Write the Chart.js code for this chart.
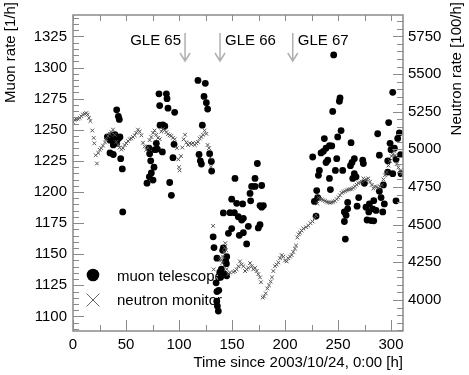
<!DOCTYPE html>
<html lang="en">
<head>
<meta charset="UTF-8">
<title>Muon and neutron rates - Oct/Nov 2003</title>
<script src="https://cdn.jsdelivr.net/npm/chart.js"></script>
<style>
  html, body { margin: 0; padding: 0; background: #fff; }
  #wrap { width: 469px; height: 375px; }
</style>
</head>
<body>
<div id="wrap"><canvas id="rates" width="469" height="375"></canvas></div>
<script>
// muon telescope, hours since 2003/10/24 0:00 and rate [1/h]
const muonHours = [
  32.4, 34.9, 34.9, 36.5, 37.2, 38.0, 38.0, 38.0, 39.6, 40.3, 41.2, 41.2, 42.8, 42.8, 43.7, 44.3, 45.0, 46.5, 46.9,
  69.8, 71.7, 72.0, 72.3, 73.3, 73.9, 75.5, 76.4, 77.4, 78.6, 79.6, 81.1, 81.8, 82.1, 84.3, 84.8, 86.6, 88.1, 88.7,
  89.6, 91.2, 92.8, 94.3, 95.3, 95.9,
  117.9, 118.9, 120.1, 121.1, 122.0, 123.6, 124.8, 125.8, 127.0, 128.9, 130.5, 130.8,
  132.2, 133.0, 135.0, 135.6, 135.8, 135.8, 136.2, 137.1, 137.5, 138.5, 139.3, 140.0, 141.2, 141.8, 141.8, 143.0,
  144.0, 144.7, 145.0, 145.0, 146.6, 148.1, 149.7, 149.7, 152.2, 152.8, 154.4, 155.9, 156.9, 159.1, 160.0, 160.7,
  160.7, 163.8, 165.4, 167.0, 167.6, 168.5, 171.7, 171.7, 173.9, 174.8, 176.4, 176.4, 178.0, 178.0, 179.6,
  226.1, 227.7, 229.3, 229.9, 230.8, 231.5, 232.4, 234.0, 236.2, 237.1, 238.7, 238.7, 240.3, 241.9, 241.9, 242.8,
  244.1, 245.0, 245.9, 247.5, 248.8, 249.7, 251.3, 251.9, 252.9, 254.4, 256.0, 256.0, 256.9, 257.6, 259.1, 259.1,
  261.7, 262.3, 263.2, 263.9, 265.4, 265.4, 267.0, 268.0, 269.5, 273.3, 273.9, 274.9, 276.4, 277.4, 279.0, 279.6,
  281.2, 282.7, 283.7, 283.7, 285.9, 287.4, 289.0, 289.0, 290.6, 292.2, 292.8, 293.7, 296.9, 296.9, 297.8, 299.1,
  300.0, 301.6, 301.6, 303.2, 304.7, 304.7, 306.3, 307.9, 309.0, 309.5
];
const muonRate = [
  1244.2, 1241.6, 1231.4, 1245.5, 1242.8, 1241.6, 1237.8, 1230.1, 1246.0, 1243.5, 1239.1, 1266.0, 1260.8, 1242.9, 1258.3, 1244.2, 1226.8, 1218.5, 1184.0,
  1207.1, 1235.3, 1212.2, 1230.7, 1225.0, 1215.3, 1209.6, 1219.9, 1234.0, 1239.1, 1234.5, 1278.9, 1269.4, 1253.7, 1232.2, 1253.9, 1252.8, 1278.9, 1275.0,
  1267.3, 1207.6, 1197.3, 1227.6, 1238.3, 1264.0,
  1289.6, 1230.1, 1225.0, 1222.5, 1253.7, 1276.8, 1287.3, 1271.7, 1266.6, 1230.7, 1224.5, 1216.8,
  1164.0, 1155.3, 1127.0, 1112.2, 1146.8, 1120.0, 1108.3, 1104.3, 1121.0, 1135.5, 1131.4, 1138.0, 1153.1, 1155.0, 1183.2, 1134.0,
  1144.2, 1142.4, 1148.0, 1132.6, 1166.8, 1183.4, 1194.2, 1170.6, 1183.4, 1210.9, 1190.9, 1180.1, 1165.2, 1177.5, 1190.4, 1178.8,
  1167.3, 1158.3, 1172.4, 1198.8, 1192.9, 1204.5, 1210.9, 1204.5, 1222.9, 1171.1, 1173.7, 1189.1, 1187.8, 1205.2, 1189.1,
  1228.1, 1192.4, 1180.6, 1201.1, 1195.5, 1213.4, 1217.3, 1231.4, 1232.7, 1242.9, 1235.2, 1223.7, 1225.5, 1237.3, 1210.9, 1201.9,
  1237.0, 1264.7, 1310.1, 1217.3, 1226.8, 1244.2, 1272.9, 1275.5, 1249.3, 1217.3, 1184.0, 1176.3, 1162.2, 1181.4, 1186.5, 1191.6,
  1221.1, 1239.6, 1223.7, 1210.9, 1226.8, 1214.7, 1212.2, 1188.6, 1195.5, 1225.5, 1222.9, 1207.0, 1187.8, 1177.5, 1184.0, 1190.4,
  1177.0, 1186.5, 1193.0, 1176.8, 1185.2, 1246.8, 1229.6, 1200.6, 1195.5, 1184.0, 1205.7, 1190.4, 1225.0, 1216.0, 1255.8, 1239.1,
  1234.0, 1280.1, 1214.7, 1235.2, 1226.3, 1192.9, 1243.0, 1247.5, 1230.0, 1214.7
];

// neutron monitor, hours and rate [100/h]
const neutronHours = [
  0, 1.6, 3.1, 4.7, 6.3, 7.9, 9.4, 11.0, 12.6, 13.8, 15.1, 16.4, 18.2, 19.5, 20.1, 21.4, 22.6, 23.9, 25.2, 26.7,
  28.3, 30.2, 31.4, 33.0, 34.6, 36.2, 37.7, 39.3, 40.9, 42.5, 44.0, 45.6, 47.2, 48.7, 50.3, 51.9, 53.5, 55.0, 56.6, 58.2,
  59.7, 61.3, 62.9, 64.5, 66.0, 67.6, 69.2, 70.8, 72.3, 73.9, 75.5, 77.0, 78.6, 80.2, 81.8, 83.3, 84.9, 86.5, 88.1, 89.6,
  91.2, 92.8, 94.3, 95.9, 98.1, 99.4, 100.0, 100.6, 101.9, 103.1, 104.4, 105.7, 106.9, 108.5, 110.1, 111.6, 113.2, 114.8, 116.4, 117.9,
  119.5, 121.1, 122.6, 124.2, 125.8, 127.0, 128.3, 129.6, 130.2,
  132.2, 132.7, 138.7, 140.0, 140.9, 141.5, 142.5, 143.1, 143.7, 144.5, 145.0, 146.5, 148.1, 151.3, 152.8, 154.4, 156.0, 157.5, 159.1, 160.7,
  162.3, 163.8, 165.4, 167.0, 168.5, 170.1, 171.7, 173.3, 174.8, 176.4, 177.3, 178.9, 180.2, 181.8, 183.3, 184.9, 186.5, 187.7, 189.0, 190.6,
  192.1, 193.7, 195.3, 196.8, 198.4, 200.0, 201.6, 203.1, 204.7, 206.3, 207.8, 209.4, 210.4, 211.6, 212.9, 214.1, 215.7, 217.3, 219.8, 222.0,
  224.0, 226.0, 228.0, 229.3, 230.5, 231.4, 233.0, 234.6, 236.0, 237.7, 239.3, 240.9, 242.5, 244.0, 245.6, 247.2, 248.8, 250.3, 251.9, 253.4,
  255.0, 256.6, 258.2, 259.7, 261.3, 262.9, 264.5, 266.0, 267.6, 269.2, 270.8, 272.3, 273.9, 275.5, 277.0, 278.6, 280.2, 281.8, 283.3, 284.9,
  286.5, 288.1, 289.6, 291.2, 292.8, 294.3, 295.9, 297.5, 299.1, 300.6, 301.6, 302.8, 303.8, 305.3, 306.9, 308.5, 310.0, 311.0
];
const neutronRate = [
  5182, 5195, 5199, 5203, 5209, 5220, 5231, 5237, 5241, 5231, 5209, 5188, 5125, 5076, 5040, 4961, 4906, 4976, 4997, 5008,
  5025, 5046, 5067, 5089, 5103, 5114, 5131, 5097, 5050, 5029, 5012, 4999, 5008, 5029, 5040, 5055, 5067, 5072, 5082, 5093,
  5110, 5131, 5118, 5093, 5044, 5019, 4997, 5012, 5061, 5082, 5110, 5125, 5097, 5076, 5067, 5118, 5135, 5127, 5114, 5101,
  5093, 5089, 5076, 5067, 5008, 4934, 4881, 4860, 4955, 5012, 5067, 5097, 5046, 5029, 5040, 5034, 5042, 5029, 5040, 5050,
  5072, 5082, 5097, 5125, 5103, 5029, 5008, 4944, 4885,
  4492, 4203, 4277, 4266, 4245, 4288, 4319, 4347, 4377, 4330, 4205, 4171, 4182, 4186, 4192, 4203, 4224, 4256, 4235, 4224,
  4192, 4203, 4213, 4245, 4224, 4203, 4213, 4192, 4171, 4150, 4118, 4016, 4023, 4044, 4076, 4097, 4122, 4150, 4192, 4224,
  4235, 4249, 4277, 4298, 4288, 4262, 4256, 4277, 4288, 4298, 4319, 4341, 4362, 4415, 4436, 4447, 4461, 4474, 4483, 4493,
  4510, 4521, 4542, 4563, 4640, 4680, 4672, 4669, 4662, 4658, 4652, 4648, 4645, 4648, 4652, 4658, 4669, 4680, 4695, 4711,
  4718, 4722, 4728, 4733, 4735, 4737, 4745, 4754, 4765, 4775, 4780, 4786, 4807, 4796, 4800, 4807, 4785, 4764, 4740, 4754,
  4750, 4743, 4755, 4764, 4800, 4828, 4849, 4892, 4923, 4955, 4966, 4990, 4960, 4902, 4880, 4860, 4840, 4828
];

const hourTicks = [0, 50, 100, 150, 200, 250, 300];
const muonTicks = [1100, 1125, 1150, 1175, 1200, 1225, 1250, 1275, 1300, 1325];
const neutronTicks = [4000, 4250, 4500, 4750, 5000, 5250, 5500, 5750];

const gleNames = ['GLE 65', 'GLE 66', 'GLE 67'];
const gleHours = [105.7, 138.7, 207.3];

const FONT = '"Liberation Sans", Arial, sans-serif';
const AXIS_GREY = '#8a8a8a';

// ROOT-like frame: inward ticks, titles at the axis ends, GLE arrows, legend
const framePlugin = {
  id: 'frame',
  afterDraw(chart) {
    const ctx = chart.ctx;
    const a = chart.chartArea;
    const xs = chart.scales.x, ys = chart.scales.y, y2 = chart.scales.y2;
    ctx.save();

    ctx.strokeStyle = AXIS_GREY;
    ctx.lineWidth = 1.5;
    ctx.strokeRect(a.left, a.top, a.right - a.left, a.bottom - a.top);

    ctx.lineWidth = 1;
    ctx.beginPath();
    for (let v = 0; v <= xs.max; v += 25) {
      const px = Math.round(xs.getPixelForValue(v)) + 0.5;
      const big = v % 50 === 0;
      ctx.moveTo(px, a.bottom); ctx.lineTo(px, a.bottom - (big ? 11 : 6));
      ctx.moveTo(px, a.top); ctx.lineTo(px, a.top + 6);
    }
    for (let v = Math.ceil(ys.min / 5) * 5; v <= ys.max; v += 5) {
      const py = Math.round(ys.getPixelForValue(v)) + 0.5;
      ctx.moveTo(a.left, py); ctx.lineTo(a.left + (v % 25 === 0 ? 11 : 6), py);
    }
    for (let v = Math.ceil(y2.min / 50) * 50; v <= y2.max; v += 50) {
      const py = Math.round(y2.getPixelForValue(v)) + 0.5;
      ctx.moveTo(a.right, py); ctx.lineTo(a.right - (v % 250 === 0 ? 10 : 6), py);
    }
    ctx.stroke();

    // GLE markers
    ctx.strokeStyle = '#b0b0b0';
    ctx.lineWidth = 1.5;
    ctx.fillStyle = '#000';
    ctx.font = '15px ' + FONT;
    ctx.textBaseline = 'middle';
    gleHours.forEach((h, i) => {
      const px = xs.getPixelForValue(h);
      const top = a.top + 18, tip = a.top + 46;
      ctx.beginPath();
      ctx.moveTo(px, top); ctx.lineTo(px, tip);
      ctx.moveTo(px - 5, tip - 8); ctx.lineTo(px, tip); ctx.lineTo(px + 5, tip - 8);
      ctx.stroke();
      if (i === 0) { ctx.textAlign = 'right'; ctx.fillText(gleNames[i], px - 4, a.top + 26); }
      else { ctx.textAlign = 'left'; ctx.fillText(gleNames[i], px + 5, a.top + 26); }
    });

    // legend
    const lx = a.left + 20;
    ctx.beginPath();
    ctx.arc(lx, 275, 6.3, 0, Math.PI * 2);
    ctx.fill();
    ctx.strokeStyle = '#666';
    ctx.lineWidth = 1;
    ctx.beginPath();
    ctx.moveTo(lx - 6.5, 293.5); ctx.lineTo(lx + 6.5, 306.5);
    ctx.moveTo(lx + 6.5, 293.5); ctx.lineTo(lx - 6.5, 306.5);
    ctx.stroke();
    ctx.textAlign = 'left';
    ctx.fillText(chart.data.datasets[0].label, lx + 24, 277);
    ctx.fillText(chart.data.datasets[1].label, lx + 24, 301);

    // axis titles
    ctx.textAlign = 'right';
    ctx.fillText('Time since 2003/10/24, 0:00 [h]', a.right, 363);
    ctx.save();
    ctx.translate(11, 2);
    ctx.rotate(-Math.PI / 2);
    ctx.fillText('Muon rate [1/h]', 0, 0);
    ctx.restore();
    ctx.save();
    ctx.translate(457, 2);
    ctx.rotate(-Math.PI / 2);
    ctx.fillText('Neutron rate [100/h]', 0, 0);
    ctx.restore();

    ctx.restore();
  }
};

function fixedTicks(values) {
  return scale => { scale.ticks = values.map(v => ({ value: v })); };
}

const tickFont = { family: FONT, size: 15 };

new Chart(document.getElementById('rates'), {
  type: 'scatter',
  data: {
    datasets: [
      {
        label: 'muon telescope',
        data: muonHours.map((h, i) => ({ x: h, y: muonRate[i] })),
        yAxisID: 'y',
        pointStyle: 'circle',
        pointRadius: 3.4,
        pointBorderWidth: 0,
        backgroundColor: '#000',
        borderColor: '#000',
        order: 2
      },
      {
        label: 'neutron monitor',
        data: neutronHours.map((h, i) => ({ x: h, y: neutronRate[i] })),
        yAxisID: 'y2',
        pointStyle: 'crossRot',
        pointRadius: 2.6,
        pointBorderWidth: 1,
        borderColor: '#555',
        backgroundColor: '#555',
        order: 1
      }
    ]
  },
  options: {
    responsive: false,
    animation: false,
    devicePixelRatio: 1,
    layout: { padding: { top: 1, left: 0, right: 0, bottom: 0 } },
    plugins: { legend: { display: false }, tooltip: { enabled: false } },
    scales: {
      x: {
        type: 'linear', position: 'bottom', min: 0, max: 311.3,
        afterBuildTicks: fixedTicks(hourTicks),
        afterFit: s => { s.height = 44; },
        grid: { display: false, drawTicks: false }, border: { display: false },
        ticks: { font: tickFont, color: '#000', padding: 5, maxRotation: 0, autoSkip: false, callback: v => String(v) }
      },
      y: {
        type: 'linear', position: 'left', min: 1088.3, max: 1342.2,
        afterBuildTicks: fixedTicks(muonTicks),
        afterFit: s => { s.width = 73; },
        grid: { display: false, drawTicks: false }, border: { display: false },
        ticks: { font: tickFont, color: '#000', padding: 6, autoSkip: false, callback: v => String(v) }
      },
      y2: {
        type: 'linear', position: 'right', min: 3794, max: 5892,
        afterBuildTicks: fixedTicks(neutronTicks),
        afterFit: s => { s.width = 66; },
        grid: { display: false, drawTicks: false }, border: { display: false },
        ticks: { font: tickFont, color: '#000', padding: 5, autoSkip: false, callback: v => String(v) }
      }
    }
  },
  plugins: [framePlugin]
});
</script>
</body>
</html>
